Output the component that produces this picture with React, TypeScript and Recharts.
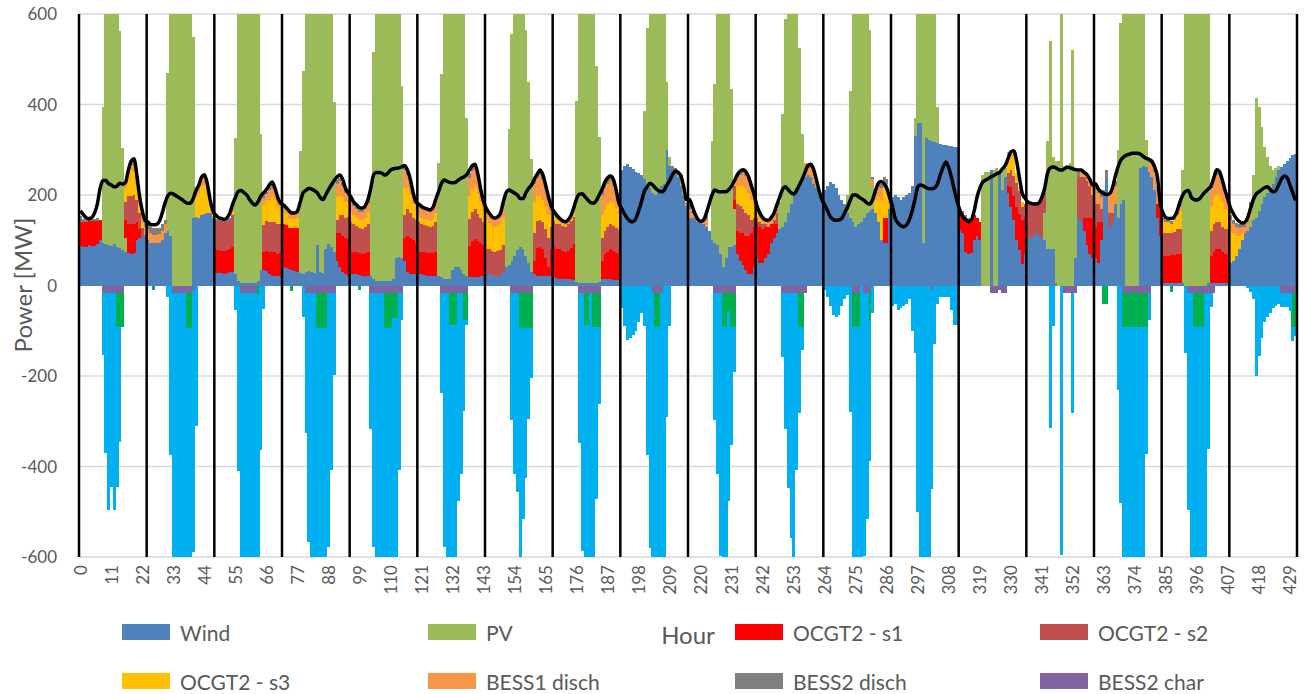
import React from 'react';
import { ComposedChart, Bar, Line, XAxis, YAxis, CartesianGrid, ReferenceLine } from 'recharts';

// ---- values, one row of 24 hours per day (18 days) ----
const Z = [0,0,0,0,0,0,0,0,0,0,0,0,0,0,0,0,0,0,0,0,0,0,0,0];

const load = [
  [165,157,150,148,150,160,180,215,232,232,225,222,218,220,226,224,228,255,275,280,245,196,163,143],
  [140,134,134,135,142,160,182,198,204,202,198,194,190,185,182,182,192,210,222,240,245,225,190,165],
  [156,150,148,146,150,160,180,195,208,210,205,200,190,182,178,185,198,205,212,222,229,215,195,182],
  [178,172,165,160,160,165,185,205,210,215,213,210,205,195,190,200,212,222,232,240,244,235,215,205],
  [195,184,178,172,171,176,190,215,245,250,250,248,244,248,255,258,259,260,262,265,255,235,205,185],
  [180,175,171,169,167,172,190,207,225,233,230,228,227,228,233,237,240,245,255,265,268,245,212,185],
  [170,160,152,149,152,160,185,205,211,208,204,200,192,192,205,215,222,235,246,255,245,222,196,175],
  [163,155,148,143,141,145,155,172,192,202,203,196,189,183,182,188,200,212,228,238,242,235,212,182],
  [170,158,148,142,141,148,165,185,208,218,226,222,215,210,207,210,222,232,245,253,250,242,218,190],
  [190,175,158,146,142,145,160,180,200,211,208,207,207,207,212,220,232,245,253,256,252,240,220,200],
  [175,160,150,145,144,150,160,178,195,212,218,212,205,202,210,222,235,250,265,268,258,235,210,190],
  [178,165,152,146,144,145,148,160,172,188,200,200,196,192,188,182,180,190,210,226,230,225,215,195],
  [175,148,138,132,130,134,145,165,190,218,222,220,216,214,214,216,225,245,262,273,260,237,210,185],
  [165,152,145,141,145,165,195,215,228,233,236,240,243,247,250,258,265,280,295,298,277,240,205,193],
  [185,182,180,180,183,195,215,248,260,262,260,256,255,258,262,260,258,256,255,255,250,245,235,222],
  [225,214,207,203,201,203,215,240,262,277,284,288,290,292,292,292,290,285,281,279,275,262,240,180],
  [160,150,148,148,152,165,185,200,208,210,195,190,189,192,200,207,213,220,238,256,252,233,210,190],
  [170,158,148,142,138,140,150,170,190,202,207,212,216,218,212,207,210,222,235,242,238,222,205,188],
];

const wind = [
  [88,86,86,90,88,88,92,100,95,92,90,88,92,85,82,78,75,72,70,72,100,105,108,112],
  [100,95,93,93,95,100,115,120,110,0,0,0,0,0,0,0,150,152,150,155,158,160,160,150],
  [28,28,27,26,28,30,30,25,10,5,5,5,5,5,5,10,34,34,32,25,20,20,20,22],
  [40,38,36,34,32,30,28,25,30,32,30,28,90,30,28,80,92,85,75,55,40,30,25,22],
  [25,25,25,24,22,22,20,20,15,10,10,10,10,10,10,15,60,64,60,55,30,25,25,25],
  [25,25,24,22,22,22,20,20,18,15,15,15,35,40,40,35,25,20,18,18,18,18,20,20],
  [25,25,24,22,22,20,30,40,45,55,65,78,85,80,65,50,30,25,22,20,20,20,20,20],
  [18,16,15,15,15,15,15,12,8,5,5,5,5,5,5,5,8,15,15,15,15,12,12,12],
  [255,265,268,262,258,250,248,245,235,220,215,205,200,210,220,225,300,265,258,250,240,220,200,175],
  [150,150,148,140,138,135,130,120,100,95,90,70,40,60,85,85,90,70,55,45,35,25,25,40],
  [60,50,50,60,70,95,105,115,125,130,140,160,180,200,215,225,235,240,245,240,225,215,205,195],
  [210,220,228,225,215,200,190,180,160,150,140,130,135,140,150,160,165,170,160,140,100,95,95,170],
  [195,200,195,190,195,200,205,220,330,360,360,95,325,322,320,318,315,312,310,310,308,308,305,305],
  [123,115,75,70,72,100,110,100,0,0,0,255,0,0,250,210,240,204,174,145,100,78,48,70],
  [100,105,110,115,110,105,100,80,80,80,5,0,0,0,0,0,0,60,150,140,120,90,70,60],
  [60,50,100,200,235,130,140,180,150,180,190,0,0,0,0,0,260,265,262,250,240,210,150,110],
  [5,5,5,5,5,5,5,5,0,0,0,0,0,0,0,0,5,5,5,5,5,5,5,5],
  [50,55,65,80,100,115,120,130,145,150,165,180,195,205,215,225,240,255,262,268,275,282,288,290],
];

const pv = [
  [0,0,0,0,0,0,0,0,300,700,850,900,850,700,480,225,30,0,0,0,0,0,0,0],
  [0,0,0,0,0,0,0,350,650,800,900,950,950,900,850,700,400,0,0,0,0,0,0,0],
  [0,0,0,0,0,0,0,300,600,800,900,950,950,900,800,650,300,0,0,0,0,0,0,0],
  [0,0,0,0,0,0,270,450,800,900,950,950,950,950,900,850,700,550,330,0,0,0,0,0],
  [0,0,0,0,0,0,0,200,500,750,850,900,950,950,900,850,700,600,380,0,0,0,0,0],
  [0,0,0,0,0,0,0,250,450,700,850,900,950,900,850,750,600,350,0,0,0,0,0,0],
  [0,0,0,0,0,0,0,160,300,500,700,800,850,750,500,400,250,0,0,0,0,0,0,0],
  [0,0,0,0,0,0,0,0,400,650,800,900,950,850,700,480,320,0,0,0,0,0,0,0],
  [0,0,0,0,0,0,0,0,150,350,500,550,600,600,550,500,150,20,0,0,0,0,0,0],
  [0,0,0,0,0,0,0,0,220,350,600,650,650,600,550,350,80,0,0,0,0,0,0,0],
  [0,0,0,0,0,0,0,0,60,250,450,500,550,550,450,300,100,20,0,0,0,0,0,0],
  [0,0,0,0,0,0,0,0,40,280,480,550,600,600,550,450,400,50,0,0,0,0,0,0],
  [0,0,0,0,0,0,0,0,40,300,300,600,300,300,290,290,80,0,0,0,0,0,0,0],
  [0,0,0,0,0,0,0,0,245,250,250,0,255,260,0,50,20,0,0,0,0,0,0,0],
  [0,0,0,0,0,0,60,240,460,205,270,275,610,265,265,270,520,200,0,0,0,0,0,0],
  [0,0,0,0,0,0,0,0,150,400,600,800,900,900,850,750,450,350,60,0,0,0,0,0],
  [0,0,0,0,0,0,0,250,600,750,850,900,900,850,800,700,620,0,0,0,0,0,0,0],
  [0,0,0,0,0,0,0,20,100,265,230,170,110,80,50,30,20,10,0,0,0,0,0,0],
];

const ocgtS1 = [
  [50,55,55,55,55,55,50,45,0,0,0,0,0,0,0,0,40,65,65,65,40,20,0,0],
  Z,
  [50,50,50,50,50,50,55,0,0,0,0,0,0,0,0,0,0,40,45,50,55,55,50,50],
  [95,95,92,92,95,98,0,0,0,0,0,0,0,0,0,0,0,0,0,60,75,80,80,80],
  [50,50,48,48,48,50,55,0,0,0,0,0,0,0,0,0,0,0,0,50,80,80,75,70],
  [50,50,50,50,50,50,55,0,0,0,0,0,0,0,0,0,0,0,70,80,85,80,75,70],
  [0,0,0,0,0,0,0,0,0,0,0,0,0,0,0,0,0,30,60,65,60,40,20,60],
  [70,65,65,62,60,62,68,80,0,0,0,0,0,0,0,0,0,40,55,60,65,65,60,60],
  Z,
  [0,0,0,0,0,0,0,0,0,0,0,0,0,0,0,0,20,50,60,70,75,85,90,90],
  [80,80,75,70,60,40,30,20,0,0,0,0,0,0,0,0,0,0,0,0,0,0,0,0],
  [0,0,0,0,0,0,0,0,0,0,0,0,0,0,0,0,0,0,0,0,0,55,55,0],
  Z,
  [35,45,75,75,75,55,40,40,0,0,0,0,0,0,0,0,0,15,44,52,74,80,96,81],
  [0,0,0,0,0,0,0,0,0,0,0,0,0,0,0,0,0,0,0,0,30,60,80,90],
  [70,90,40,0,0,0,0,0,0,0,0,0,0,0,0,0,0,0,0,0,0,0,30,60],
  [60,60,60,62,62,65,65,0,0,0,0,0,0,0,0,0,0,60,70,75,75,70,65,65],
  Z,
];

const ocgtS2 = [
  [5,0,0,0,0,0,0,0,0,0,0,0,0,0,0,0,40,60,62,62,50,35,20,0],
  Z,
  [65,65,65,65,65,65,70,0,0,0,0,0,0,0,0,0,0,60,65,65,65,65,65,65],
  [0,0,0,0,0,0,0,0,0,0,0,0,0,0,0,0,0,0,0,30,40,45,45,50],
  [65,60,58,55,55,58,62,0,0,0,0,0,0,0,0,0,0,0,0,50,60,55,50,50],
  [65,62,60,60,58,60,65,0,0,0,0,0,0,0,0,0,0,0,60,65,65,60,55,50],
  [55,55,52,52,55,58,60,0,0,0,0,0,0,0,0,0,0,60,60,60,60,65,65,50],
  [55,55,55,55,55,58,60,60,0,0,0,0,0,0,0,0,0,50,50,55,55,55,55,50],
  Z,
  [0,0,0,0,0,0,0,0,0,0,0,0,0,0,0,0,30,60,60,55,50,45,30,20],
  [10,10,10,5,0,0,10,25,0,0,0,0,0,0,0,0,0,0,0,0,0,0,0,0],
  Z,
  Z,
  [0,0,0,0,0,0,0,0,0,0,0,0,0,0,0,0,0,30,37,44,52,50,30,30],
  [80,75,70,65,70,85,50,0,0,0,0,0,0,0,0,0,0,0,90,100,90,80,70,50],
  [50,40,30,0,0,30,20,0,0,0,0,0,0,0,0,0,0,0,0,0,0,0,0,0],
  [50,50,50,50,52,55,55,0,0,0,0,0,0,0,0,0,0,55,60,60,60,55,55,55],
  Z,
];

const ocgtS3 = [
  [0,0,0,0,0,0,0,0,0,0,0,0,0,0,0,0,30,45,55,55,35,20,10,0],
  [10,0,0,0,0,0,0,0,0,0,0,0,0,0,0,0,0,45,55,65,65,45,20,10],
  [0,0,0,0,0,0,10,0,0,0,0,0,0,0,0,0,0,45,45,50,55,50,40,30],
  [28,25,22,20,20,22,0,0,0,0,0,0,0,0,0,0,0,0,0,50,45,40,35,30],
  [25,20,20,18,20,20,25,0,0,0,0,0,0,0,0,0,0,0,0,60,45,40,30,20],
  [15,13,12,12,12,15,20,0,0,0,0,0,0,0,0,0,0,0,50,50,50,45,35,25],
  [65,58,55,55,55,57,60,0,0,0,0,0,0,0,0,0,0,70,55,55,50,50,50,25],
  [10,8,5,3,3,0,5,10,0,0,0,0,0,0,0,0,0,50,50,50,50,50,45,35],
  Z,
  [0,0,0,0,0,0,0,0,0,0,0,0,0,0,0,0,10,40,45,50,55,50,45,25],
  [15,10,5,0,0,0,0,0,0,0,0,0,0,0,0,0,0,0,0,0,0,0,0,0],
  [0,0,0,0,0,0,0,0,0,0,0,0,0,0,0,0,0,0,30,55,90,65,60,10],
  Z,
  [0,0,0,0,0,0,0,0,0,0,0,0,0,0,0,0,0,35,37,44,22,10,10,0],
  [0,0,0,0,0,0,0,0,0,0,0,0,0,0,0,0,0,0,0,0,0,0,0,10],
  [0,0,0,0,0,0,0,0,0,0,0,0,0,0,0,0,0,0,0,0,0,0,0,15],
  [30,25,25,20,25,30,40,0,0,0,0,0,0,0,0,0,0,55,60,60,60,55,45,40],
  [70,60,45,30,15,0,0,0,0,0,0,0,0,0,0,0,0,0,0,0,0,0,0,0],
];

const bess1Disch = [
  [0,0,0,0,0,0,0,0,0,0,0,0,0,0,0,0,10,12,15,18,15,15,20,20],
  [15,20,18,18,18,20,20,0,0,0,0,0,0,0,0,0,0,13,12,15,15,15,10,5],
  [0,0,0,0,0,0,10,0,0,0,0,0,0,0,0,0,0,15,15,20,20,20,15,10],
  [12,10,10,10,10,10,0,0,0,0,0,0,0,0,0,0,0,0,0,30,30,25,20,15],
  [20,20,18,18,18,18,20,0,0,0,0,0,0,0,0,0,0,0,0,40,30,25,20,15],
  [20,20,20,20,20,20,22,0,0,0,0,0,0,0,0,0,0,0,40,40,40,35,22,15],
  [20,17,16,15,15,20,25,0,0,0,0,0,0,0,0,0,0,40,40,45,45,40,35,15],
  [5,5,4,4,4,5,4,5,0,0,0,0,0,0,0,0,0,45,45,45,45,40,30,20],
  [0,0,0,0,0,0,0,0,0,0,0,0,0,0,0,0,0,0,0,5,10,20,20,10],
  [20,10,5,3,2,5,15,0,0,0,0,0,0,0,0,0,0,20,25,28,28,28,25,20],
  [10,10,10,10,14,15,15,18,0,0,0,0,0,0,0,0,0,10,15,20,25,15,5,0],
  [0,0,0,0,0,0,0,0,0,0,0,0,0,0,0,0,0,15,15,22,25,15,15,10],
  Z,
  [0,0,0,0,0,0,0,0,0,0,0,0,0,0,0,0,0,10,5,5,0,0,0,0],
  [0,0,0,0,0,0,0,0,0,0,0,0,0,0,0,0,0,0,0,10,10,15,15,10],
  [30,25,25,0,0,40,50,40,0,0,0,0,0,0,0,0,0,0,0,20,30,40,40,0],
  [0,0,0,0,0,0,10,0,0,0,0,0,0,0,0,0,0,40,40,45,45,40,35,20],
  [25,22,20,18,15,15,20,25,0,0,0,0,0,0,0,0,0,0,0,0,0,0,0,0],
];

const bess2Disch = [
  [10,5,5,5,5,5,8,0,0,0,0,0,0,0,0,0,0,0,8,8,5,0,5,10],
  [15,15,15,15,15,15,10,0,0,0,0,0,0,0,0,0,0,0,5,5,7,5,0,0],
  [5,5,5,5,5,5,5,0,0,0,0,0,0,0,0,0,0,5,5,7,8,5,5,5],
  [5,4,5,4,3,5,0,0,0,0,0,0,0,0,0,0,0,0,0,8,8,8,8,5],
  [10,9,9,9,8,8,8,0,0,0,0,0,0,0,0,0,0,0,0,10,8,8,5,5],
  [5,5,5,5,5,5,8,0,0,0,0,0,0,0,0,0,0,0,10,10,10,7,5,5],
  [5,5,5,5,5,5,8,0,0,0,0,0,0,0,0,0,0,10,10,10,10,7,5,5],
  [5,5,4,4,4,5,3,5,0,0,0,0,0,0,0,0,0,10,10,10,10,10,8,5],
  [0,0,0,0,0,0,0,0,0,0,0,0,0,0,0,0,0,0,5,5,0,5,0,0],
  [10,5,3,3,2,5,10,0,0,0,0,0,0,0,0,0,0,5,8,8,9,7,5,5],
  [0,0,0,0,0,0,0,0,0,0,0,0,0,0,0,0,0,0,5,8,8,5,0,0],
  [0,0,0,0,0,0,0,0,0,0,0,0,0,0,0,0,0,5,5,9,10,10,10,5],
  Z,
  [5,5,5,5,0,0,0,0,0,0,0,0,0,0,0,0,0,0,0,0,0,0,0,0],
  [5,5,5,5,5,5,0,0,0,0,0,0,0,0,0,0,0,0,10,0,0,0,0,0],
  [10,8,8,10,20,5,0,10,0,0,0,0,0,0,0,0,0,0,0,5,5,10,0,0],
  [5,5,5,5,5,8,5,0,0,0,0,0,0,0,0,0,0,5,5,10,8,5,5,5],
  [10,8,8,8,8,8,10,10,0,0,0,0,0,0,0,0,0,0,0,0,0,0,0,0],
];

const bess2Char = [
  [0,0,0,0,0,0,0,0,-17,-17,-17,-17,-17,-17,-17,-17,0,0,0,0,0,0,0,0],
  [0,0,0,0,0,0,0,0,0,-17,-17,-17,-17,-17,-17,-17,-10,0,0,0,0,0,0,0],
  [0,0,0,0,0,0,0,0,0,-17,-17,-17,-17,-17,-17,0,0,0,0,0,0,0,0,0],
  [0,0,0,0,0,0,0,0,-17,-17,-17,-17,-17,-17,-17,-17,-17,-17,-17,0,0,0,0,0],
  [0,0,0,0,0,0,0,-17,-17,-17,-17,-17,-17,-17,-17,-17,-17,-17,-17,0,0,0,0,0],
  [0,0,0,0,0,0,0,0,-17,-17,-17,-17,-17,-17,-17,-17,-17,-17,0,0,0,0,0,0],
  [0,0,0,0,0,0,0,0,0,-17,-17,-17,-17,-17,-17,-17,-17,0,0,0,0,0,0,0],
  [0,0,0,0,0,0,0,0,0,-17,-17,-17,-17,-17,-17,-17,-17,0,0,0,0,0,0,0],
  [0,0,0,0,0,0,0,0,0,0,0,-17,-17,-17,-17,0,0,0,0,0,0,0,0,0],
  [0,0,0,0,0,0,0,0,0,-17,-17,-17,-17,-17,-17,-17,-17,0,0,0,0,0,0,0],
  [0,0,0,0,0,0,0,0,0,-17,-17,-17,-17,-17,-17,-17,-17,-17,0,0,0,0,0,0],
  [0,0,0,0,0,0,0,0,0,0,-17,-17,-17,0,-17,-17,-17,0,0,0,0,0,0,0],
  [0,0,0,0,0,0,0,0,0,0,0,0,0,0,-10,0,0,0,0,0,0,0,0,0],
  [0,0,0,0,0,0,0,0,0,0,0,-17,-17,-17,-10,-17,-17,0,0,0,0,0,0,0],
  [0,0,0,0,0,0,0,0,0,0,0,0,0,-17,-17,-17,-17,-17,0,0,0,0,0,0],
  [0,0,0,0,0,0,0,0,0,0,-17,-17,-17,-17,-17,-17,-17,-17,-17,-17,0,0,0,0],
  [0,0,0,0,0,0,0,0,0,-17,-17,-17,-17,-17,-17,-17,-17,-17,-17,0,0,0,0,0],
  [0,0,0,0,0,0,0,0,0,0,0,0,0,0,0,0,0,0,-17,-17,-17,-17,-17,-17],
];

const bess1Char = [
  [0,0,0,0,0,0,0,0,0,0,0,0,0,-74,-74,-74,0,0,0,0,0,0,0,0],
  [0,0,-10,0,0,0,0,0,0,0,0,0,0,0,-78,-78,0,0,0,0,0,0,0,0],
  [0,0,0,0,0,0,0,0,0,0,0,0,0,0,0,-20,0,0,0,0,0,0,0,0],
  [0,0,0,-12,0,0,0,0,0,0,0,0,-78,-78,-78,-78,0,0,0,0,0,0,0,0],
  [0,0,0,-10,0,0,0,0,0,0,0,0,-78,-78,-78,-55,-55,0,0,0,0,0,0,0],
  [0,0,0,0,0,0,0,0,0,0,0,-70,-70,-70,0,0,-60,-60,0,0,0,0,0,0],
  [0,0,0,0,0,0,0,0,0,0,0,0,-78,-78,-78,-78,-78,0,0,0,0,0,0,0],
  [0,0,0,0,0,0,0,0,0,0,0,-70,-70,0,-75,-75,-75,0,0,0,0,0,0,0],
  [0,0,0,0,0,0,0,0,0,0,0,0,-75,-75,0,0,0,0,0,0,0,0,0,0],
  [0,0,0,0,0,0,0,0,0,0,0,0,-75,-75,-40,-75,-75,0,0,0,0,0,0,0],
  [0,0,0,0,0,0,0,0,0,0,0,0,0,0,0,-75,-75,0,0,0,0,0,0,0],
  [0,0,0,0,0,0,0,0,0,0,-75,-75,-75,0,0,0,-60,0,0,0,0,0,0,0],
  Z,
  Z,
  Z,
  [0,0,0,-40,-40,0,0,0,0,0,-75,-75,-75,-75,-75,-75,-75,-75,-75,0,0,0,0,0],
  [0,0,0,-15,0,0,0,0,0,0,0,-75,-75,-75,-75,0,0,0,0,0,0,0,0,0],
  [0,0,0,0,0,0,0,0,0,0,0,0,0,0,0,0,0,0,0,0,0,0,-75,-75],
];

const surplus = [
  [0,0,0,0,0,0,0,0,-137,-353,-480,-428,-480,-354,-255,0,0,0,0,0,0,0,0,0],
  [0,0,0,0,0,0,0,-26,-375,-700,-700,-700,-700,-700,-700,-700,-580,-310,0,0,0,0,0,0],
  [0,0,0,0,0,0,0,-55,-410,-700,-700,-700,-700,-700,-700,-650,-363,-52,0,0,0,0,0,0],
  [0,0,0,0,0,0,0,-70,-310,-550,-700,-700,-700,-700,-700,-650,-560,-390,-180,0,0,0,0,0],
  [0,0,0,0,0,0,0,-300,-560,-700,-700,-700,-700,-700,-700,-700,-700,-390,-60,0,0,0,0,0],
  [0,0,0,0,0,0,0,0,-220,-560,-700,-700,-700,-700,-460,-400,-200,-10,0,0,0,0,0,0],
  [0,0,0,0,0,0,0,0,0,-280,-400,-440,-700,-420,-330,-200,-110,0,0,0,0,0,0,0],
  [0,0,0,0,0,0,0,0,0,-330,-570,-700,-700,-700,-530,-380,-170,0,0,0,0,0,0,0],
  [-50,-90,-120,-115,-110,-100,-80,-60,-90,-375,-580,-700,-700,-700,-650,-600,-290,-90,0,0,0,0,0,0],
  [0,0,0,0,0,0,0,0,0,-280,-400,-580,-650,-650,-420,-260,-100,0,0,0,0,0,0,0],
  [0,0,0,0,0,0,0,0,0,-140,-300,-430,-540,-650,-390,-190,-50,0,0,0,0,0,0,0],
  [-10,-25,-45,-65,-70,-65,-45,-30,-20,-280,-650,-650,-650,-650,-580,-500,-310,-60,0,0,0,0,0,0],
  [-45,-40,-55,-50,-45,-40,-30,-100,-150,-500,-650,-650,-650,-650,-440,-130,-40,-25,-25,-25,-25,-55,-88,-88],
  Z,
  [0,0,0,0,0,0,0,0,-316,-90,0,0,-595,0,0,0,-265,0,0,0,0,0,0,0],
  [0,0,0,0,0,0,0,0,-230,-480,-650,-650,-650,-650,-650,-650,-650,-650,-280,-60,0,0,0,0],
  [0,0,0,0,0,0,0,0,-150,-480,-650,-650,-650,-650,-650,-650,-345,-30,0,0,0,0,0,0],
  [0,0,0,0,0,0,-5,-15,-30,-200,-155,-115,-80,-70,-60,-50,-45,-40,-30,-30,-30,-40,-30,-20],
];

const yTicks = [-600, -400, -200, 0, 200, 400, 600];
const dayStarts = [0, 24, 48, 72, 96, 120, 144, 168, 192, 216, 240, 264, 288, 312, 336, 360, 384, 408];

const seriesDefs = [
  { key: 'wind', name: 'Wind', color: '#4F81BD', rows: wind },
  { key: 'pv', name: 'PV', color: '#9BBB59', rows: pv },
  { key: 's1', name: 'OCGT2 - s1', color: '#FF0000', rows: ocgtS1 },
  { key: 's2', name: 'OCGT2 - s2', color: '#C0504D', rows: ocgtS2 },
  { key: 's3', name: 'OCGT2 - s3', color: '#FFC000', rows: ocgtS3 },
  { key: 'b1d', name: 'BESS1 disch', color: '#F79646', rows: bess1Disch },
  { key: 'b2d', name: 'BESS2 disch', color: '#7F7F7F', rows: bess2Disch },
  { key: 'b2c', name: 'BESS2 char', color: '#8064A2', rows: bess2Char },
  { key: 'b1c', name: 'BESS1 char', color: '#00B050', rows: bess1Char },
  { key: 'sur', name: 'Surplus', color: '#00B0F0', rows: surplus },
];

function flatten(rows: number[][], label: string): number[] {
  if (rows.length !== 18) throw new Error(label + ' has ' + rows.length + ' days');
  rows.forEach((r, i) => {
    if (r.length !== 24) throw new Error(label + ' day ' + (i + 1) + ' has ' + r.length + ' values');
  });
  return rows.flat();
}

const flatSeries: Record<string, number[]> = {};
seriesDefs.forEach((s) => { flatSeries[s.key] = flatten(s.rows, s.key); });
const loadFlat = flatten(load, 'load');

const data = loadFlat.map((l, i) => {
  const row: Record<string, number> = { h: i, load: l };
  seriesDefs.forEach((s) => { row[s.key] = flatSeries[s.key][i]; });
  return row;
});

const legendItems = seriesDefs.slice(0, 8);
const legendCols = [122, 428, 735, 1040];
const legendRows = [632, 681];

const textColor = '#595959';

const HourTick = (props: any) => {
  const { x, y, payload } = props;
  return (
    <text
      x={x}
      y={y}
      transform={`rotate(-90, ${x}, ${y})`}
      textAnchor="end"
      dominantBaseline="central"
      fontSize={17}
      fill={textColor}
    >
      {payload.value}
    </text>
  );
};

export default function App() {
  return (
    <div style={{ position: 'absolute', left: 0, top: 0, width: 1304, height: 694, background: '#fff', fontFamily: 'Lato, "Liberation Sans", sans-serif' }}>
      <style>{`.recharts-bar-rectangle path{shape-rendering:crispEdges}`}</style>
      <ComposedChart
        width={1304}
        height={694}
        data={data}
        margin={{ top: 14, right: 7, left: 0, bottom: 97 }}
        stackOffset="sign"
        barCategoryGap={0}
        barGap={0}
      >
        <CartesianGrid vertical={false} stroke="#D9D9D9" strokeWidth={1.5} />
        <XAxis
          dataKey="h"
          type="category"
          interval={10}
          height={40}
          axisLine={false}
          tickLine={false}
          tick={<HourTick />}
        />
        <YAxis
          type="number"
          domain={[-600, 600]}
          ticks={yTicks}
          allowDataOverflow
          width={79}
          axisLine={false}
          tickLine={false}
          tickMargin={16}
          tick={{ fontSize: 17, fill: textColor }}
        />
        {seriesDefs.map((s) => (
          <Bar key={s.key} dataKey={s.key} name={s.name} stackId="a" fill={s.color} isAnimationActive={false} />
        ))}
        {dayStarts.map((d) => (
          <ReferenceLine key={'d' + d} x={d} position="start" stroke="#000" strokeWidth={2.5} />
        ))}
        <ReferenceLine x={431} position="end" stroke="#000" strokeWidth={2.5} />
        <Line dataKey="load" type="monotone" stroke="#000" strokeWidth={3.5} dot={false} isAnimationActive={false} />
      </ComposedChart>

      <div style={{ position: 'absolute', left: 22, top: 285, transform: 'translate(-50%, -50%) rotate(-90deg)', fontSize: 24, color: textColor, whiteSpace: 'nowrap' }}>
        Power [MW]
      </div>
      <div style={{ position: 'absolute', left: 688, top: 634, transform: 'translate(-50%, -50%)', fontSize: 24, color: textColor, whiteSpace: 'nowrap' }}>
        Hour
      </div>
      {legendItems.map((s, i) => {
        const x = legendCols[i % 4];
        const y = legendRows[Math.floor(i / 4)];
        return (
          <React.Fragment key={s.key}>
            <div style={{ position: 'absolute', left: x, top: y - 8, width: 48, height: 16, background: s.color }} />
            <div style={{ position: 'absolute', left: x + 58, top: y, transform: 'translateY(-50%)', fontSize: 21, color: textColor, whiteSpace: 'nowrap', lineHeight: 1 }}>
              {s.name}
            </div>
          </React.Fragment>
        );
      })}
    </div>
  );
}
